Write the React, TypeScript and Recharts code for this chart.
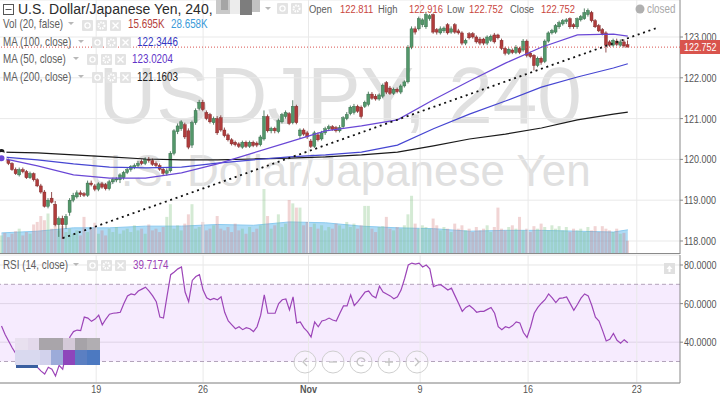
import React from 'react';
import { ComposedChart, Bar, Line, Area, XAxis, YAxis, CartesianGrid, ReferenceLine, ReferenceArea } from 'recharts';

const SANS = "'Liberation Sans', Arial, sans-serif";
const SQUEEZE = 0.82; // screenshot text is narrower than Arial

// USDJPY 240-minute candles, oldest first
const opens = [
  119.95, 120.02, 119.98, 119.90, 119.75, 119.62, 119.75, 119.70, 119.55, 119.65,
  119.50, 119.35, 119.20, 118.85, 119.05, 118.90, 118.40, 118.55, 118.40, 118.70,
  119.00, 119.08, 119.18, 119.16, 119.12, 119.42, 119.35, 119.27, 119.40, 119.38,
  119.28, 119.45, 119.50, 119.50, 119.55, 119.68, 119.75, 119.80, 119.85, 119.95,
  119.90, 120.00, 119.97, 119.90, 119.85, 119.76, 119.66, 119.72, 120.15, 120.68,
  120.75, 120.85, 120.70, 120.35, 120.90, 121.25, 121.40, 121.15, 121.10, 120.90,
  121.00, 121.02, 120.72, 120.60, 120.48, 120.42, 120.38, 120.30, 120.42, 120.32,
  120.42, 120.40, 120.36, 120.50, 121.05, 120.70, 120.76, 120.68, 120.92, 121.05,
  121.12, 120.90, 121.30, 120.58, 120.72, 120.65, 120.45, 120.32, 120.60, 120.50,
  120.65, 120.75, 120.80, 120.78, 120.70, 120.80, 121.00, 121.12, 121.15, 121.30,
  121.28, 121.30, 121.35, 121.60, 121.55, 121.48, 121.55, 121.88, 121.75, 121.62,
  121.72, 121.65, 121.80, 121.90, 122.75, 123.20, 123.20, 123.30, 123.25, 123.45,
  123.55, 123.18, 123.10, 123.15, 123.30, 123.12, 123.30, 123.15, 123.10, 122.85,
  123.08, 123.08, 123.00, 122.95, 122.95, 122.85, 122.92, 123.05, 123.05, 122.92,
  122.72, 122.60, 122.68, 122.62, 122.72, 122.68, 122.90, 122.60, 122.55, 122.30,
  122.48, 122.40, 122.90, 123.10, 123.12, 123.25, 123.32, 123.38, 123.45, 123.30,
  123.25, 123.42, 123.45, 123.55, 123.60, 123.40, 123.28, 123.18, 123.10, 122.88,
  122.80, 122.90, 122.80, 122.88, 122.811,
];
const highs = [
  120.06, 120.05, 120.02, 119.93, 119.80, 119.80, 119.80, 119.74, 119.70, 119.68,
  119.54, 119.40, 119.25, 119.05, 119.20, 118.98, 118.60, 118.62, 118.66, 119.05,
  119.18, 119.24, 119.24, 119.20, 119.48, 119.48, 119.40, 119.44, 119.45, 119.42,
  119.50, 119.55, 119.56, 119.66, 119.72, 119.80, 119.86, 119.90, 119.96, 120.00,
  120.05, 120.06, 120.02, 119.95, 119.90, 119.80, 119.78, 120.20, 120.74, 120.88,
  120.96, 120.90, 120.76, 120.95, 121.25, 121.46, 121.46, 121.20, 121.14, 121.05,
  121.06, 121.08, 120.78, 120.64, 120.52, 120.46, 120.42, 120.46, 120.46, 120.46,
  120.46, 120.44, 120.60, 121.20, 121.10, 120.80, 120.80, 121.00, 121.14, 121.20,
  121.16, 121.45, 121.34, 120.76, 120.76, 120.70, 120.50, 120.70, 120.66, 120.70,
  120.80, 120.85, 120.84, 120.82, 120.84, 121.06, 121.16, 121.32, 121.36, 121.34,
  121.32, 121.44, 121.66, 121.65, 121.60, 121.62, 121.86, 121.92, 121.80, 121.76,
  121.76, 121.84, 121.94, 122.80, 123.26, 123.26, 123.50, 123.46, 123.60, 123.56,
  123.58, 123.22, 123.26, 123.26, 123.34, 123.26, 123.34, 123.20, 123.14, 122.96,
  123.12, 123.12, 123.04, 123.00, 122.98, 123.04, 123.06, 123.10, 123.08, 122.96,
  122.76, 122.74, 122.72, 122.80, 122.76, 122.95, 122.94, 122.64, 122.58, 122.52,
  122.52, 122.94, 123.14, 123.20, 123.32, 123.40, 123.44, 123.46, 123.48, 123.34,
  123.48, 123.54, 123.70, 123.70, 123.64, 123.44, 123.32, 123.22, 123.14, 122.92,
  122.96, 122.96, 122.94, 122.94, 122.916,
];
const lows = [
  119.92, 119.95, 119.86, 119.72, 119.62, 119.58, 119.66, 119.52, 119.52, 119.46,
  119.32, 119.16, 118.82, 118.80, 118.92, 118.36, 118.10, 118.05, 118.30, 118.62,
  118.95, 119.04, 119.08, 119.08, 119.08, 119.34, 119.22, 119.22, 119.28, 119.24,
  119.24, 119.40, 119.44, 119.42, 119.50, 119.64, 119.70, 119.76, 119.80, 119.86,
  119.86, 119.92, 119.84, 119.80, 119.72, 119.62, 119.60, 119.68, 120.10, 120.62,
  120.70, 120.50, 120.25, 120.28, 120.85, 121.20, 121.18, 120.96, 120.88, 120.85,
  120.60, 120.68, 120.54, 120.44, 120.34, 120.32, 120.28, 120.26, 120.28, 120.28,
  120.30, 120.30, 120.32, 120.46, 120.66, 120.64, 120.64, 120.64, 120.88, 121.00,
  120.84, 120.86, 120.86, 120.50, 120.58, 120.50, 120.28, 120.28, 120.44, 120.46,
  120.60, 120.70, 120.70, 120.66, 120.66, 120.76, 120.96, 121.08, 121.10, 121.14,
  121.00, 121.26, 121.30, 121.46, 121.44, 121.44, 121.50, 121.60, 121.58, 121.58,
  121.62, 121.60, 121.76, 121.86, 122.70, 123.06, 123.16, 123.24, 123.20, 123.40,
  123.08, 123.06, 123.06, 123.10, 123.06, 123.08, 123.08, 123.06, 122.80, 122.80,
  122.94, 122.96, 122.84, 122.80, 122.80, 122.80, 122.88, 122.84, 122.94, 122.68,
  122.55, 122.56, 122.58, 122.58, 122.58, 122.64, 122.50, 122.48, 122.18, 122.26,
  122.32, 122.36, 122.86, 123.06, 123.08, 123.20, 123.28, 123.32, 123.20, 123.20,
  123.20, 123.38, 123.42, 123.50, 123.36, 123.22, 123.12, 123.04, 122.62, 122.76,
  122.76, 122.78, 122.76, 122.74, 122.752,
];
const closes = [
  120.02, 119.98, 119.90, 119.75, 119.65, 119.75, 119.70, 119.55, 119.65, 119.50,
  119.35, 119.20, 118.85, 119.00, 118.95, 118.40, 118.55, 118.40, 118.60, 119.00,
  119.12, 119.18, 119.14, 119.12, 119.42, 119.38, 119.27, 119.40, 119.32, 119.28,
  119.45, 119.50, 119.52, 119.62, 119.68, 119.75, 119.82, 119.85, 119.90, 119.90,
  120.00, 119.97, 119.88, 119.85, 119.76, 119.66, 119.72, 120.15, 120.70, 120.82,
  120.92, 120.55, 120.30, 120.90, 121.20, 121.40, 121.22, 121.00, 120.92, 121.00,
  120.65, 120.72, 120.58, 120.48, 120.38, 120.36, 120.32, 120.42, 120.32, 120.42,
  120.34, 120.35, 120.55, 121.05, 120.70, 120.76, 120.70, 120.95, 121.10, 121.15,
  120.88, 121.30, 120.90, 120.72, 120.62, 120.55, 120.32, 120.65, 120.48, 120.65,
  120.75, 120.80, 120.74, 120.70, 120.78, 121.02, 121.10, 121.28, 121.30, 121.18,
  121.05, 121.40, 121.60, 121.50, 121.48, 121.58, 121.82, 121.65, 121.62, 121.72,
  121.66, 121.80, 121.90, 122.75, 123.20, 123.12, 123.45, 123.42, 123.55, 123.52,
  123.12, 123.12, 123.20, 123.22, 123.10, 123.20, 123.12, 123.10, 122.85, 122.92,
  122.98, 123.00, 122.88, 122.85, 122.85, 123.00, 123.02, 122.88, 122.98, 122.72,
  122.60, 122.70, 122.62, 122.75, 122.62, 122.90, 122.55, 122.52, 122.30, 122.48,
  122.38, 122.90, 123.10, 123.16, 123.28, 123.35, 123.40, 123.42, 123.25, 123.25,
  123.45, 123.50, 123.60, 123.65, 123.40, 123.25, 123.15, 123.08, 122.80, 122.80,
  122.92, 122.82, 122.88, 122.78, 122.752,
];
// volume in thousands
const volumes = [
  22, 25, 20, 24, 27, 30, 22, 26, 24, 35,
  38, 45, 40, 48, 30, 36, 28, 33, 26, 30,
  24, 28, 22, 44, 26, 30, 37, 24, 28, 22,
  30, 26, 32, 24, 28, 30, 26, 34, 28, 30,
  24, 35, 28, 30, 26, 32, 44, 59, 30, 34,
  28, 36, 47, 59, 30, 32, 38, 28, 30, 34,
  45, 30, 28, 32, 26, 36, 28, 30, 24, 32,
  26, 30, 34, 77, 45, 30, 34, 47, 32, 36,
  64, 60, 55, 55, 34, 38, 32, 36, 30, 34,
  28, 32, 30, 36, 34, 30, 38, 32, 36, 30,
  34, 57, 57, 30, 26, 32, 33, 44, 30, 28,
  32, 30, 34, 47, 69, 36, 30, 34, 32, 30,
  42, 34, 28, 32, 30, 26, 36, 30, 34, 28,
  30, 26, 32, 28, 30, 34, 26, 32, 55, 30,
  28, 32, 34, 30, 44, 28, 30, 26, 33, 30,
  36, 32, 28, 34, 30, 33, 28, 32, 26, 30,
  28, 30, 26, 32, 28, 33, 26, 33, 30, 28,
  26, 30, 24, 25, 15.695,
];
const rsiValues = [
  48.4, 44, 40.5, 37, 34, 36, 35, 31, 33, 30,
  27, 25, 23.5, 27, 26, 22.5, 28, 26, 35, 42.7,
  45.5, 46.3, 46, 53, 52.5, 50.8, 52, 54, 49, 52,
  54.5, 55, 55.2, 55.5, 60, 64, 65, 64.5, 66.5, 67.5,
  68.5, 66.5, 64, 61, 53, 52.5, 64, 75, 76.4, 78,
  79, 66, 61, 72, 74, 75, 67, 63, 62, 62.7,
  62, 63.5, 55.5, 51, 49, 47, 48, 46.5, 47.5, 47,
  45.5, 48, 54, 64.5, 55, 55, 55, 60, 62, 62.4,
  56.7, 63.5, 50, 50.5, 47.4, 45.5, 42.7, 50.5, 48, 51,
  51.5, 52.5, 51.5, 51, 55, 58.8, 58.8, 64.5, 59, 61,
  63.5, 66, 66.5, 64, 63, 69, 66, 65, 64, 62.5,
  63.5, 67, 73, 80, 81, 80.5, 81, 79, 80, 78,
  68.8, 69.5, 69.8, 68.5, 67, 68, 64, 60, 56, 58,
  59, 57.5, 55.5, 56, 56, 57, 58, 55, 48, 46.5,
  48, 47.4, 48.6, 50.5, 50, 45, 42.5, 48, 55, 58,
  60.2, 62, 65, 63, 60.5, 62.7, 63, 63.4, 60, 56.5,
  59.5, 62.8, 65, 64, 59, 53, 51, 46, 40.6, 41.5,
  44.5, 41, 39.5, 41.3, 39.7174,
];

// moving averages, read every 10 bars
const maIndex = [0, 10, 20, 30, 40, 50, 60, 70, 80, 90, 100, 110, 120, 130, 140, 150, 160, 170, 174];
const ma50 = [120.03, 119.84, 119.62, 119.54, 119.54, 119.67, 119.89, 120.16, 120.43, 120.70, 120.82, 120.97, 121.46, 121.92, 122.36, 122.75, 123.05, 123.07, 123.0204];
const ma100 = [120.06, 119.99, 119.89, 119.81, 119.79, 119.81, 119.91, 119.99, 120.06, 120.11, 120.18, 120.35, 120.75, 121.11, 121.43, 121.77, 122.02, 122.24, 122.3446];
const ma200 = [120.18, 120.16, 120.11, 120.06, 120.01, 119.99, 119.99, 120.01, 120.03, 120.06, 120.11, 120.18, 120.33, 120.50, 120.62, 120.77, 120.97, 121.11, 121.1603];
const volMa = [25, 27, 31, 31, 33, 33, 35, 34, 38, 37, 33, 31, 30, 27, 28, 28, 27, 26, 28.658];

// dotted trend line
const trendIndex = [17, 182];
const trendValues = [118.07, 123.22];

const dateTicks = [26.3, 56, 85.3, 116.3, 146.3, 176.5];
const dateLabels = ['19', '26', 'Nov', '9', '16', '23'];
const priceTicks = [118, 119, 120, 121, 122, 123];
const rsiTicks = [40, 60, 80];

const X_DOMAIN: [number, number] = [-0.42, 188.5];
const PRICE_DOMAIN: [number, number] = [117.681, 123.907];
const VOL_DOMAIN: [number, number] = [0, 301];
const RSI_DOMAIN: [number, number] = [18.86, 85.18];

const lastClose = closes[closes.length - 1];

const rows = Array.from({ length: 189 }, (_, i) => {
  const row: any = { i };
  if (i < closes.length) {
    row.o = opens[i];
    row.h = highs[i];
    row.l = lows[i];
    row.c = closes[i];
    row.range = [lows[i], highs[i]];
    row.vol = volumes[i];
    row.rsi = rsiValues[i];
  }
  const m = maIndex.indexOf(i);
  if (m >= 0) {
    row.ma50 = ma50[m];
    row.ma100 = ma100[m];
    row.ma200 = ma200[m];
    row.volMa = volMa[m];
  }
  const t = trendIndex.indexOf(i);
  if (t >= 0) row.trend = trendValues[t];
  return row;
});

// text drawn narrower, like the screenshot's font
function SqText({ x, y, children, anchor = 'start', size = 12, fill = '#5d5d5d', weight = 'normal' }: any) {
  return (
    <text transform={`translate(${x} ${y}) scale(${SQUEEZE} 1)`} textAnchor={anchor} fontSize={size}
      fill={fill} fontWeight={weight} fontFamily={SANS}>
      {children}
    </text>
  );
}

function Candle(props: any) {
  const { x, width, payload } = props;
  let { y, height } = props;
  if (!payload || payload.o == null || y == null) return null;
  if (height < 0) { y += height; height = -height; }
  const { o, h, l, c } = payload;
  const k = height / (h - l || 1);
  const top = y + (h - Math.max(o, c)) * k;
  const bodyH = Math.max(1, Math.abs(o - c) * k);
  const up = c >= o;
  const edge = up ? '#2e6343' : '#762222';
  const cx = x + width / 2;
  return (
    <g>
      <line x1={cx} x2={cx} y1={y} y2={y + height} stroke={edge} strokeWidth={0.8} />
      <rect x={x} y={top} width={width} height={bodyH} fill={up ? '#53976a' : '#b03c3c'} stroke={edge} strokeWidth={0.4} />
    </g>
  );
}

function VolumeBar(props: any) {
  const { x, y, width, height, payload } = props;
  if (!payload || payload.vol == null) return null;
  const up = payload.c >= payload.o;
  return <rect x={x} y={y} width={width} height={height} fill={up ? 'rgba(120,190,120,0.32)' : 'rgba(210,120,120,0.32)'} />;
}

function DateTick(props: any) {
  const { x, y, payload } = props;
  const label = dateLabels[dateTicks.indexOf(payload.value)] ?? '';
  return <SqText x={x} y={y + 10} anchor="middle" size={11} fill="#555" weight={label === 'Nov' ? 'bold' : 'normal'}>{label}</SqText>;
}

function PriceTick(props: any) {
  const { x, y, payload } = props;
  return <SqText x={x} y={y + 4} size={11} fill="#555">{payload.value.toFixed(3)}</SqText>;
}

function RsiTick(props: any) {
  const { x, y, payload } = props;
  return <SqText x={x} y={y + 4} size={11} fill="#555">{payload.value.toFixed(4)}</SqText>;
}

function Caret({ x, y }: { x: number; y: number }) {
  return <polygon points={`${x},${y - 6} ${x + 6},${y - 6} ${x + 3},${y - 3}`} fill="#b8b8b8" />;
}

// eye / gear / close buttons, drawn as shapes
function Icons({ x, y, n = 3 }: { x: number; y: number; n?: number }) {
  return (
    <g>
      {Array.from({ length: n }, (_, k) => {
        const bx = x + k * 14;
        const cx = bx + 5.5;
        const cy = y + 5.5;
        return (
          <g key={k}>
            <rect x={bx} y={y} width={11} height={11} fill="#e3e3e3" rx={1} />
            {k === 0 && <circle cx={cx} cy={cy} r={2.6} fill="none" stroke="#fff" strokeWidth={1.3} />}
            {k === 1 && <circle cx={cx} cy={cy} r={3} fill="none" stroke="#fff" strokeWidth={2} strokeDasharray="1.5 1" />}
            {k === 2 && (
              <path d={`M${cx - 3} ${cy - 3} L${cx + 3} ${cy + 3} M${cx + 3} ${cy - 3} L${cx - 3} ${cy + 3}`} stroke="#fff" strokeWidth={1.4} />
            )}
          </g>
        );
      })}
    </g>
  );
}

function NavButton({ cx, kind }: { cx: number; kind: string }) {
  const cy = 362;
  const s = '#c4c4c4';
  return (
    <g>
      <circle cx={cx} cy={cy} r={11} fill="rgba(255,255,255,0.35)" stroke="#cfcfcf" />
      {kind === 'left' && <path d={`M${cx + 2} ${cy - 4} L${cx - 2} ${cy} L${cx + 2} ${cy + 4}`} fill="none" stroke={s} strokeWidth={1.3} />}
      {kind === 'right' && <path d={`M${cx - 2} ${cy - 4} L${cx + 2} ${cy} L${cx - 2} ${cy + 4}`} fill="none" stroke={s} strokeWidth={1.3} />}
      {kind === 'minus' && <path d={`M${cx - 4} ${cy} L${cx + 4} ${cy}`} stroke={s} strokeWidth={1.3} />}
      {kind === 'plus' && <path d={`M${cx - 4} ${cy} L${cx + 4} ${cy} M${cx} ${cy - 4} L${cx} ${cy + 4}`} stroke={s} strokeWidth={1.3} />}
      {kind === 'reset' && <path d={`M${cx + 4} ${cy - 1} A4 4 0 1 0 ${cx + 2.5} ${cy + 3}`} fill="none" stroke={s} strokeWidth={1.3} />}
    </g>
  );
}

export default function App() {
  const legendRows = [
    { label: 'MA (100, close)', caret: 78, icons: 92, value: '122.3446', vx: 137, color: '#3535c0', base: 46 },
    { label: 'MA (50, close)', caret: 73, icons: 87, value: '123.0204', vx: 132, color: '#5f35c8', base: 63 },
    { label: 'MA (200, close)', caret: 78, icons: 92, value: '121.1603', vx: 137, color: '#222', base: 81 },
  ];
  const topMosaic = [
    [216, 0, 14, 14, '#c9c9c9'], [221, 0, 7, 10, '#a5a5a5'], [230, 0, 10, 14, '#ececec'],
    [240, 0, 12, 15, '#7d7d7d'], [252, 0, 8, 12, '#c2c2c2'],
  ] as const;
  const rsiMosaic = [
    [15, 338, 13, 12, '#e8e0ef'], [28, 338, 11, 12, '#e3d9eb'], [39, 338, 24, 12, '#a9a5aa'],
    [63, 338, 12, 12, '#d5cad9'], [75, 338, 12, 12, '#a6a3a8'], [87, 338, 13, 12, '#b1aeb2'],
    [15, 350, 25, 15, '#d9d9ef'], [40, 350, 11, 15, '#d2d2ec'], [51, 350, 12, 15, '#9cabd9'],
    [63, 350, 12, 15, '#8e46bb'], [75, 350, 12, 15, '#5b7fc2'], [87, 350, 13, 15, '#4c79c1'],
    [16, 365, 22, 3, '#3a5fa0'],
  ] as const;
  const navButtons = [
    { cx: 305, kind: 'left' }, { cx: 333, kind: 'minus' }, { cx: 361, kind: 'reset' }, { cx: 389, kind: 'plus' }, { cx: 417, kind: 'right' },
  ];

  return (
    <div style={{ position: 'fixed', left: 0, top: 0, width: 720, height: 395, background: '#fff', overflow: 'hidden', fontFamily: SANS }}>
      {/* watermark */}
      <svg width={720} height={254} style={{ position: 'absolute', left: 0, top: 0 }}>
        <text x={340} y={123} textAnchor="middle" fontSize={80} fill="#e0e0e0" fontFamily={SANS}>USDJPY, 240</text>
        <text x={340} y={186} textAnchor="middle" fontSize={44} fill="#e0e0e0" fontFamily={SANS}>U.S. Dollar/Japanese Yen</text>
      </svg>

      {/* grid, price axis, volume */}
      <div style={{ position: 'absolute', left: 0, top: 0 }}>
        <ComposedChart width={720} height={254} data={rows} margin={{ top: 0, right: 0, bottom: 0, left: 0 }}>
          <CartesianGrid vertical={false} stroke="#e9e9e9" />
          {dateTicks.map((t) => (
            <ReferenceLine key={t} x={t} stroke="#e9e9e9" />
          ))}
          <XAxis dataKey="i" type="number" domain={X_DOMAIN} allowDataOverflow hide />
          <YAxis orientation="right" width={40} domain={PRICE_DOMAIN} ticks={priceTicks} allowDataOverflow
            tick={(p: any) => <PriceTick {...p} />} tickSize={3} tickMargin={1}
            axisLine={{ stroke: '#888' }} tickLine={{ stroke: '#888' }} />
          <YAxis yAxisId="vol" hide domain={VOL_DOMAIN} />
          <Bar yAxisId="vol" dataKey="vol" barSize={3} shape={VolumeBar} isAnimationActive={false} />
          <Area yAxisId="vol" type="linear" dataKey="volMa" connectNulls stroke="#8ccbf0" strokeWidth={1}
            fill="#4fb0ea" fillOpacity={0.46} dot={false} activeDot={false} isAnimationActive={false} />
        </ComposedChart>
      </div>

      {/* price */}
      <div style={{ position: 'absolute', left: 0, top: 0 }}>
        <ComposedChart width={720} height={254} data={rows} margin={{ top: 0, right: 0, bottom: 0, left: 0 }}>
          <XAxis dataKey="i" type="number" domain={X_DOMAIN} allowDataOverflow hide />
          <YAxis orientation="right" width={40} domain={PRICE_DOMAIN} allowDataOverflow tick={false} axisLine={false} tickLine={false} />
          <ReferenceLine y={lastClose} stroke="#d9534f" strokeDasharray="1 2" />
          <Line dataKey="ma200" connectNulls stroke="#1a1a1a" strokeWidth={1.2} dot={false} isAnimationActive={false} />
          <Line dataKey="ma100" connectNulls stroke="#4646d2" strokeWidth={1.2} dot={false} isAnimationActive={false} />
          <Line dataKey="ma50" connectNulls stroke="#6a48d6" strokeWidth={1.2} dot={false} isAnimationActive={false} />
          <Line dataKey="trend" connectNulls stroke="#111" strokeWidth={1.8} strokeDasharray="2 3.7" dot={false} isAnimationActive={false} />
          <Bar dataKey="range" barSize={3} shape={Candle} isAnimationActive={false} />
        </ComposedChart>
      </div>

      {/* RSI */}
      <div style={{ position: 'absolute', left: 0, top: 254 }}>
        <ComposedChart width={720} height={141} data={rows} margin={{ top: 1, right: 0, bottom: 0, left: 0 }}>
          <CartesianGrid vertical={false} stroke="#e6e6e6" />
          {dateTicks.map((t) => (
            <ReferenceLine key={t} x={t} stroke="#e9e9e9" />
          ))}
          <ReferenceArea y1={30} y2={70} fill="#a020f0" fillOpacity={0.09} stroke="none" />
          <ReferenceLine y={70} stroke="#b3a3bb" strokeDasharray="4 3" />
          <ReferenceLine y={30} stroke="#b3a3bb" strokeDasharray="4 3" />
          <XAxis dataKey="i" type="number" domain={X_DOMAIN} allowDataOverflow ticks={dateTicks} interval={0}
            height={12} tickSize={0} tickMargin={0} tickLine={false} axisLine={{ stroke: '#888' }}
            tick={(p: any) => <DateTick {...p} />} />
          <YAxis orientation="right" width={40} domain={RSI_DOMAIN} ticks={rsiTicks} allowDataOverflow
            tick={(p: any) => <RsiTick {...p} />} tickSize={3} tickMargin={1}
            axisLine={{ stroke: '#888' }} tickLine={{ stroke: '#888' }} />
          <Line dataKey="rsi" stroke="#9c45b8" strokeWidth={1.2} dot={false} isAnimationActive={false} />
        </ComposedChart>
      </div>

      {/* legends and chrome */}
      <svg width={720} height={395} style={{ position: 'absolute', left: 0, top: 0, pointerEvents: 'none' }}>
        <line x1={0} x2={680} y1={253.5} y2={253.5} stroke="#8a8a8a" />

        <rect x={3.5} y={4.5} width={10} height={10} fill="none" stroke="#555" />
        <line x1={5.5} x2={11.5} y1={9.5} y2={9.5} stroke="#555" />
        <text x={18} y={14} fontSize={14} fill="#2b2b2b" fontFamily={SANS}>U.S. Dollar/Japanese Yen, 240,</text>
        {topMosaic.map(([x, y, w, h, c], k) => (
          <rect key={k} x={x} y={y} width={w} height={h} fill={c} />
        ))}
        <Caret x={265} y={13} />
        <Icons x={277} y={3} n={2} />

        <SqText x={309} y={13} size={11.5}>Open</SqText>
        <SqText x={340} y={13} size={11.5} fill="#c9463d">122.811</SqText>
        <SqText x={378} y={13} size={11.5}>High</SqText>
        <SqText x={409} y={13} size={11.5} fill="#c9463d">122.916</SqText>
        <SqText x={447} y={13} size={11.5}>Low</SqText>
        <SqText x={469} y={13} size={11.5} fill="#c9463d">122.752</SqText>
        <SqText x={510} y={13} size={11.5}>Close</SqText>
        <SqText x={541} y={13} size={11.5} fill="#c9463d">122.752</SqText>
        <circle cx={640} cy={9} r={4.5} fill="#b0b0b0" />
        <SqText x={647} y={13} fill="#a8a8a8">closed</SqText>

        <SqText x={3} y={28}>Vol (20, false)</SqText>
        <SqText x={128} y={28} fill="#b5413a">15.695K</SqText>
        <SqText x={171} y={28} fill="#3a9ad9">28.658K</SqText>
        <Caret x={68} y={28} />
        <Icons x={82} y={20} />
        {legendRows.map((r) => (
          <g key={r.label}>
            <SqText x={3} y={r.base}>{r.label}</SqText>
            <SqText x={r.vx} y={r.base} fill={r.color}>{r.value}</SqText>
            <Caret x={r.caret} y={r.base} />
            <Icons x={r.icons} y={r.base - 9} />
          </g>
        ))}

        <SqText x={3} y={269}>RSI (14, close)</SqText>
        <SqText x={133} y={269} fill="#9c45b8">39.7174</SqText>
        <Caret x={73} y={269} />
        <Icons x={87} y={260} />

        <rect x={680} y={40} width={40} height={14} fill="#d9544d" />
        <SqText x={684} y={51} size={11} fill="#fff">122.752</SqText>

        <rect x={664} y={263} width={11} height={11} fill="#e0e0e0" />
        <path d="M669.5 265.5 L666.5 269 L668.5 269 L668.5 272 L670.5 272 L670.5 269 L672.5 269 Z" fill="#fff" />

        {rsiMosaic.map(([x, y, w, h, c], k) => (
          <rect key={k} x={x} y={y} width={w} height={h} fill={c} />
        ))}
        {navButtons.map((b) => (
          <NavButton key={b.cx} cx={b.cx} kind={b.kind} />
        ))}
      </svg>
    </div>
  );
}
